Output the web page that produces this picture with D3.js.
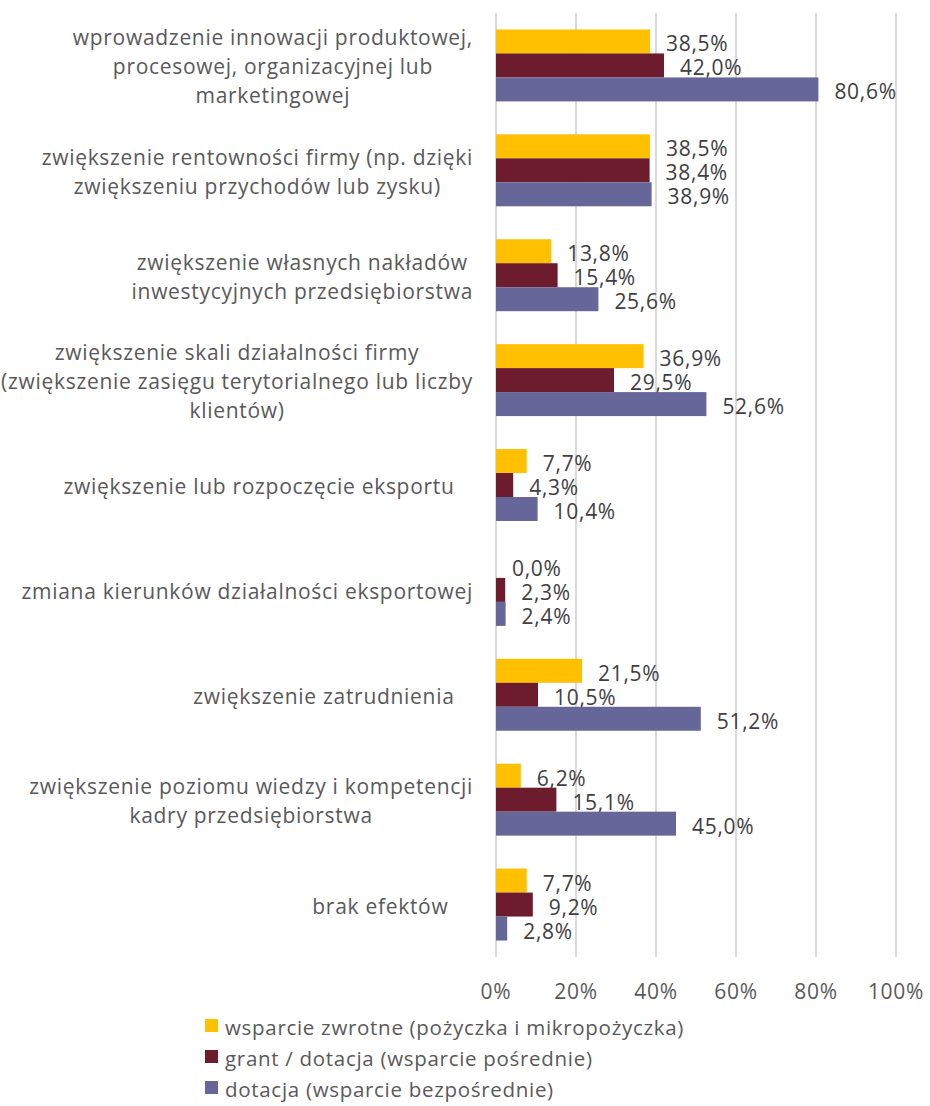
<!DOCTYPE html>
<html>
<head>
<meta charset="utf-8">
<script src="https://cdn.jsdelivr.net/npm/d3@7"></script>
<style>
  body { margin: 0; background: #fff; }
  text { font-family: "Open Sans", "Noto Sans", sans-serif; letter-spacing: 0.7px; white-space: pre; }
</style>
</head>
<body>
<div id="chart"></div>
<script>
// Category labels (already split into lines like in the original)
const categories = [
    ["wprowadzenie innowacji produktowej,", "procesowej, organizacyjnej lub", "marketingowej"],
    ["zwiększenie rentowności firmy (np. dzięki", "zwiększeniu przychodów lub zysku)"],
    ["zwiększenie własnych nakładów", "inwestycyjnych przedsiębiorstwa"],
    ["zwiększenie skali działalności firmy", "(zwiększenie zasięgu terytorialnego lub liczby", "klientów)"],
    ["zwiększenie lub rozpoczęcie eksportu   "],
    ["zmiana kierunków działalności eksportowej"],
    ["zwiększenie zatrudnienia   "],
    ["zwiększenie poziomu wiedzy i kompetencji", "kadry przedsiębiorstwa"],
    ["brak efektów    "]
];

const seriesNames = [
    "wsparcie zwrotne (pożyczka i mikropożyczka)",
    "grant / dotacja (wsparcie pośrednie)",
    "dotacja (wsparcie bezpośrednie)"
];
const seriesColors = ["#FFC000", "#6D1C2D", "#666699"];

// Values in percent
const zwrotne = [38.5, 38.5, 13.8, 36.9, 7.7, 0.0, 21.5, 6.2, 7.7];
const grant = [42.0, 38.4, 15.4, 29.5, 4.3, 2.3, 10.5, 15.1, 9.2];
const dotacja = [80.6, 38.9, 25.6, 52.6, 10.4, 2.4, 51.2, 45.0, 2.8];

const xTicks = [0, 20, 40, 60, 80, 100];

const width = 930, height = 1106;
const svg = d3.select("#chart").append("svg")
    .attr("width", width)
    .attr("height", height);

const x = d3.scaleLinear().domain([0, 100]).range([496, 896]);
const y0 = d3.scaleBand()
    .domain(d3.range(categories.length))
    .range([13, 957])
    .paddingInner(0.314)
    .paddingOuter(0.157);
const y1 = d3.scaleBand()
    .domain(d3.range(seriesNames.length))
    .range([0, y0.bandwidth()]);

// Gridlines
svg.append("g")
    .selectAll("line")
    .data(xTicks)
    .enter()
    .append("line")
    .attr("x1", d => x(d))
    .attr("x2", d => x(d))
    .attr("y1", 13)
    .attr("y2", 957)
    .attr("stroke", "#d9d9d9")
    .attr("stroke-width", 2);

// Axis tick labels
svg.append("g")
    .selectAll("text")
    .data(xTicks)
    .enter()
    .append("text")
    .attr("x", d => x(d))
    .attr("y", 999)
    .attr("text-anchor", "middle")
    .attr("fill", "#595959")
    .style("font-size", "21px")
    .text(d => d + "%");

const allSeries = [zwrotne, grant, dotacja];
const fmt = v => v.toFixed(1).replace(".", ",") + "%";

allSeries.forEach((values, s) => {
    const g = svg.append("g");
    g.selectAll("rect")
        .data(values)
        .enter()
        .append("rect")
        .attr("x", x(0))
        .attr("y", (d, i) => y0(i) + y1(s))
        .attr("width", d => x(d) - x(0))
        .attr("height", y1.bandwidth())
        .attr("fill", seriesColors[s]);

    g.selectAll("text")
        .data(values)
        .enter()
        .append("text")
        .attr("x", d => x(d) + 16)
        .attr("y", (d, i) => y0(i) + y1(s) + y1.bandwidth() - 2)
        .attr("fill", "#404040")
        .style("font-size", "21px")
        .text(d => fmt(d));
});

// Category labels: block right aligned next to the axis, lines centred in it
const lineH = 29;
const labelRight = 473;
const labels = svg.append("g")
    .selectAll("text")
    .data(categories)
    .enter()
    .append("text")
    .attr("text-anchor", "middle")
    .attr("fill", "#595959")
    .style("font-size", "21px");

labels.each(function(lines, i) {
    const el = d3.select(this);
    const cy = y0(i) + y0.bandwidth() / 2;
    const first = cy - (lines.length - 1) * lineH / 2 + 9;
    const spans = el.selectAll("tspan")
        .data(lines)
        .enter()
        .append("tspan")
        .attr("y", (d, j) => first + j * lineH)
        .text(d => d);
    const maxW = d3.max(spans.nodes(), n => n.getComputedTextLength());
    spans.attr("x", labelRight - maxW / 2);
});

// Legend
const legend = svg.append("g");
seriesNames.forEach((name, s) => {
    const ly = 1019 + s * 31;
    legend.append("rect")
        .attr("x", 205)
        .attr("y", ly)
        .attr("width", 13)
        .attr("height", 13)
        .attr("fill", seriesColors[s]);
    legend.append("text")
        .attr("x", 225)
        .attr("y", ly + 16)
        .attr("fill", "#595959")
        .style("font-size", "20.5px")
        .text(name);
});
</script>
</body>
</html>
